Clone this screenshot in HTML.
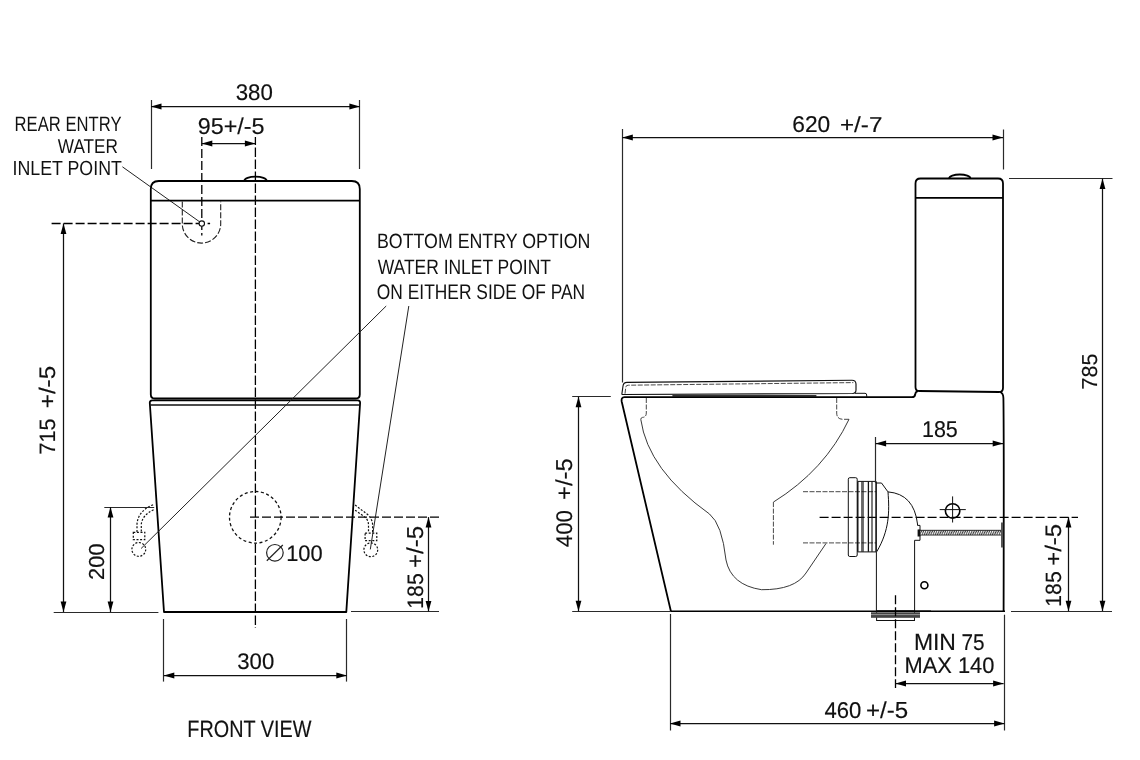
<!DOCTYPE html>
<html><head><meta charset="utf-8"><style>
html,body{margin:0;padding:0;background:#fff;width:1140px;height:760px;overflow:hidden}
svg{display:block;will-change:transform}
text{font-family:"Liberation Sans",sans-serif;fill:#111;text-rendering:geometricPrecision;stroke:#111;stroke-width:0.7}
.obj{stroke:#000;stroke-width:1.8;fill:none;stroke-linejoin:round}
.obj1{stroke:#000;stroke-width:1.6;fill:none}
.obj2{stroke:#111;stroke-width:1.5;fill:none}
.dim{stroke:#111;stroke-width:1.25;fill:none}
.ext{stroke:#2a2a2a;stroke-width:1.2;fill:none}
.lead{stroke:#222;stroke-width:1;fill:none}
.dash{stroke:#000;stroke-width:1.3;fill:none;stroke-dasharray:9 3}
.seat{stroke:#111;stroke-width:1.15;fill:none}
.udash{stroke:#222;stroke-width:1.1;fill:none;stroke-dasharray:6 2}
.tdash{stroke:#333;stroke-width:0.9;fill:none;stroke-dasharray:5 1.5}
.dots{stroke:#111;stroke-width:1.2;fill:none;stroke-dasharray:2 1.6}
.thin1{stroke:#222;stroke-width:0.9;fill:none}
.lite{stroke:#aaa;stroke-width:0.8;fill:none}
.tdash2{stroke:#111;stroke-width:1.3;fill:none;stroke-dasharray:3 2.5}
.thin{stroke:#111;stroke-width:1;fill:none}
.thin2{stroke:#222;stroke-width:1.2;fill:none}
</style></head><body>
<svg width="1140" height="760" viewBox="0 0 1140 760">
<rect width="1140" height="760" fill="#fff"/>
<line x1="151.5" y1="100" x2="151.5" y2="169" class="ext"/>
<line x1="359.5" y1="100" x2="359.5" y2="169" class="ext"/>
<line x1="151" y1="106.5" x2="359.9" y2="106.5" class="dim"/>
<polygon points="151.00,106.50 161.50,103.60 161.50,109.40" fill="#000"/>
<polygon points="359.90,106.50 349.40,103.60 349.40,109.40" fill="#000"/>
<text transform="translate(235.709,100.173) scale(0.22264,0.22676)" font-size="100">380</text>
<line x1="201.8" y1="137" x2="201.8" y2="235.5" class="dash"/>
<line x1="201.8" y1="143.5" x2="255.4" y2="143.5" class="dim"/>
<polygon points="201.80,143.50 212.30,140.60 212.30,146.40" fill="#000"/>
<polygon points="255.40,143.50 244.90,140.60 244.90,146.40" fill="#000"/>
<text transform="translate(197.751,133.872) scale(0.23315,0.22817)" font-size="100">95+/-5</text>
<line x1="255.4" y1="137" x2="255.4" y2="628" class="dash" style="stroke-dasharray:9.5 2.5;stroke-dashoffset:1.6"/>
<text transform="translate(14.568,131.000) scale(0.16648,0.20870)" font-size="100" style="stroke-width:0">REAR ENTRY</text>
<text transform="translate(57.814,152.900) scale(0.17184,0.20145)" font-size="100" style="stroke-width:0">WATER</text>
<text transform="translate(12.500,175.397) scale(0.17780,0.20282)" font-size="100" style="stroke-width:0">INLET POINT</text>
<line x1="122.4" y1="166.8" x2="199.6" y2="221.8" class="lead"/>
<path class="obj" d="M150.8,394.5 V189 Q150.8,181 158.8,181 H351.8 Q359.8,181 359.8,189 V394.5 Q359.8,398.5 355.8,398.5 H154.8 Q150.8,398.5 150.8,394.5 Z"/>
<line x1="150.8" y1="200.7" x2="359.8" y2="200.7" class="obj"/>
<path class="obj" d="M244.3,181 A11.2,4.4 0 0 1 266.7,181"/>
<path class="udash" d="M182.3,201.5 V223.9 A19.2,19.2 0 0 0 220.7,223.9 V201.5"/>
<line x1="51.6" y1="223.5" x2="210.1" y2="223.5" class="dash"/>
<line x1="63.5" y1="223.5" x2="63.5" y2="612" class="dim"/>
<polygon points="63.50,223.50 60.60,234.00 66.40,234.00" fill="#000"/>
<polygon points="63.50,612.00 60.60,601.50 66.40,601.50" fill="#000"/>
<text transform="translate(54.777,454.476) rotate(-90) scale(0.21524,0.22286)" font-size="100">715</text>
<text transform="translate(54.774,408.208) rotate(-90) scale(0.24157,0.22571)" font-size="100">+/-5</text>
<line x1="53.7" y1="612.5" x2="158.4" y2="612.5" class="ext"/>
<path class="obj" d="M149.8,403 Q149.6,400.4 152.3,400.4 H357.8 Q360.3,400.4 360.1,403 L346.3,612 H164 Z"/>
<line x1="150.5" y1="404.9" x2="359.5" y2="404.9" class="obj2"/>
<circle cx="255.3" cy="517.3" r="25.8" class="tdash2"/>
<line x1="250" y1="517.1" x2="439" y2="517.1" class="dash"/>
<circle cx="274.9" cy="552.8" r="8.3" class="thin2"/>
<line x1="266.8" y1="560.8" x2="282.8" y2="545" class="thin2"/>
<text transform="translate(286.160,560.825) scale(0.21865,0.22535)" font-size="100">100</text>
<path class="dots" d="M153.1,504.7 Q138,511 137,524 V532.3 M153.6,509.7 Q142.5,515 141.3,524 V532.3"/>
<rect x="133.3" y="532.3" width="11.5" height="7.4" class="dots"/>
<circle cx="138.8" cy="549.4" r="6.9" class="dots"/>
<path class="dots" d="M355.1,505.1 L367,514 Q372.6,519 372.6,525 V533 M355.1,510.2 L363.5,516 Q368.5,519.5 368.5,525 V533"/>
<rect x="365.1" y="533.2" width="11.7" height="7.4" class="dots"/>
<circle cx="370.8" cy="549.8" r="6.9" class="dots"/>
<text transform="translate(376.978,248.393) scale(0.17779,0.20704)" font-size="100" style="stroke-width:0">BOTTOM ENTRY OPTION</text>
<text transform="translate(377.813,273.792) scale(0.17434,0.20845)" font-size="100" style="stroke-width:0">WATER INLET POINT</text>
<text transform="translate(376.818,298.989) scale(0.17385,0.21127)" font-size="100" style="stroke-width:0">ON EITHER SIDE OF PAN</text>
<line x1="386.2" y1="306" x2="141.1" y2="548.5" class="lead"/>
<line x1="408.8" y1="306" x2="370.3" y2="549.4" class="lead"/>
<line x1="104.3" y1="507.5" x2="154.2" y2="507.5" class="ext"/>
<line x1="110.5" y1="507" x2="110.5" y2="612" class="dim"/>
<polygon points="110.50,507.00 107.60,517.50 113.40,517.50" fill="#000"/>
<polygon points="110.50,612.00 107.60,601.50 113.40,601.50" fill="#000"/>
<text transform="translate(103.783,579.893) rotate(-90) scale(0.21867,0.21690)" font-size="100">200</text>
<line x1="351" y1="611.5" x2="439" y2="611.5" class="ext"/>
<line x1="428.5" y1="517.1" x2="428.5" y2="611.5" class="dim"/>
<polygon points="428.50,517.10 425.60,527.60 431.40,527.60" fill="#000"/>
<polygon points="428.50,611.50 425.60,601.00 431.40,601.00" fill="#000"/>
<text transform="translate(422.576,608.692) rotate(-90) scale(0.21226,0.22394)" font-size="100">185</text>
<text transform="translate(422.770,567.899) rotate(-90) scale(0.23976,0.23000)" font-size="100">+/-5</text>
<line x1="163.5" y1="619" x2="163.5" y2="681.6" class="ext"/>
<line x1="346.5" y1="619" x2="346.5" y2="681.6" class="ext"/>
<line x1="163.8" y1="675.5" x2="346.8" y2="675.5" class="dim"/>
<polygon points="163.80,675.50 174.30,672.60 174.30,678.40" fill="#000"/>
<polygon points="346.80,675.50 336.30,672.60 336.30,678.40" fill="#000"/>
<text transform="translate(237.212,668.875) scale(0.22201,0.22535)" font-size="100">300</text>
<text transform="translate(187.313,737.265) scale(0.19838,0.23521)" font-size="100">FRONT VIEW</text>
<line x1="622.5" y1="129" x2="622.5" y2="382.5" class="ext"/>
<line x1="1003.5" y1="129.5" x2="1003.5" y2="169.5" class="ext"/>
<line x1="622.3" y1="137.5" x2="1003" y2="137.5" class="dim"/>
<polygon points="622.30,137.50 632.80,134.60 632.80,140.40" fill="#000"/>
<polygon points="1003.00,137.50 992.50,134.60 992.50,140.40" fill="#000"/>
<text transform="translate(792.262,132.170) scale(0.22753,0.22958)" font-size="100">620</text>
<text transform="translate(839.991,131.900) scale(0.24182,0.21594)" font-size="100">+/-7</text>
<path class="obj" d="M915.5,387 V183.5 Q915.5,178.5 920.5,178.5 H998 Q1003,178.5 1003,183.5 V388 Q1003,392 999,392 L919,391 Q915.5,391 915.5,387"/>
<line x1="915.5" y1="197.9" x2="1003" y2="197.9" class="obj"/>
<path class="obj" d="M949.2,178.5 A10.6,4 0 0 1 970.4,178.5"/>
<line x1="1009" y1="178.5" x2="1112.5" y2="178.5" class="ext"/>
<line x1="1102.5" y1="178.5" x2="1102.5" y2="611.2" class="dim"/>
<polygon points="1102.50,178.50 1099.60,189.00 1105.40,189.00" fill="#000"/>
<polygon points="1102.50,611.20 1099.60,600.70 1105.40,600.70" fill="#000"/>
<text transform="translate(1096.683,389.473) rotate(-90) scale(0.21460,0.21690)" font-size="100">785</text>
<line x1="1011" y1="611.5" x2="1112" y2="611.5" class="ext"/>
<path class="seat" d="M621.8,394.5 L623,386 Q623.5,382.4 627,382.4 L852,380.2 Q855.8,380.2 856,384 V390 Q856,393.3 852.5,393.5 L621.8,394.5"/>
<path class="tdash" d="M625,393.7 L625.8,387 Q626,385.2 628.5,385.2 L853.3,382.6"/>
<path class="thin" d="M855,393.3 H865 Q866.7,393.3 866.7,395 V396.8"/>
<rect x="672.4" y="395" width="144" height="1.6" fill="#333"/>
<path class="obj" d="M670.9,611.3 L621.8,402 Q620.8,397.2 624.5,397.2 H912 Q914.8,397.2 915.2,394.5 Q915.5,391.5 918,391.2"/>
<path class="obj" d="M1000,392 Q1003.3,393 1003.4,398 Q1004,430 1003.6,611.3"/>
<line x1="572.2" y1="611.5" x2="670.5" y2="611.5" class="ext"/>
<line x1="670.5" y1="611.3" x2="1005" y2="611.3" class="obj1"/>
<line x1="610.8" y1="396.5" x2="572.2" y2="396.5" class="ext"/>
<line x1="578.5" y1="396.7" x2="578.5" y2="611.2" class="dim"/>
<polygon points="578.50,396.70 575.60,407.20 581.40,407.20" fill="#000"/>
<polygon points="578.50,611.20 575.60,600.70 581.40,600.70" fill="#000"/>
<text transform="translate(571.773,547.258) rotate(-90) scale(0.22305,0.22676)" font-size="100">400</text>
<text transform="translate(571.770,499.990) rotate(-90) scale(0.23795,0.23000)" font-size="100">+/-5</text>
<path class="tdash" d="M646.3,398 V413 Q646.3,417.2 642.5,417.4 Q640.8,417.6 640.8,419.5"/>
<path class="thin1" d="M640.8,419.5 Q648,470 709.5,514 Q722,524 726,560 Q731,585 761.5,589.7 Q795,590 806,573 L826,543.5"/>
<path class="tdash" d="M836.7,398 V413 Q836.7,419.3 843,419.3 H849"/>
<path class="thin1" d="M849,419.3 Q825,470 773.4,502.1"/>
<path class="tdash" d="M773.4,502.1 V544.7"/>
<line x1="803" y1="491.7" x2="876" y2="491.7" class="tdash"/>
<line x1="803" y1="542.9" x2="876" y2="542.9" class="tdash"/>
<line x1="819.6" y1="517.4" x2="1078" y2="517.4" class="dash"/>
<rect x="848.3" y="477.7" width="8.9" height="78.8" rx="1.5" class="thin"/>
<line x1="857.8" y1="481.5" x2="857.8" y2="551.8" stroke="#111" stroke-width="1.4"/>
<line x1="861.9" y1="481.5" x2="861.9" y2="551.8" stroke="#111" stroke-width="1"/>
<line x1="863.1" y1="481.5" x2="863.1" y2="551.8" stroke="#111" stroke-width="1"/>
<line x1="868.4" y1="481.5" x2="868.4" y2="551.8" stroke="#111" stroke-width="1.3"/>
<line x1="872" y1="481.5" x2="872" y2="551.8" stroke="#111" stroke-width="1.1"/>
<line x1="876.1" y1="481.5" x2="876.1" y2="551.8" stroke="#111" stroke-width="1.6"/>
<line x1="857.8" y1="481.4" x2="876.1" y2="481.4" class="thin"/>
<line x1="857.8" y1="551.9" x2="876.1" y2="551.9" class="thin"/>
<path class="thin" d="M876.1,483 H881.5 L888,491.9 C889.5,512 889.5,530 876.7,551.8"/>
<path class="thin" d="M888,491.9 Q914,494 917.5,524 V525.4 H920 V540.3 H914.6 V611.5"/>
<line x1="875.5" y1="437" x2="875.5" y2="483" class="ext"/>
<line x1="876.4" y1="551.8" x2="876.4" y2="611" class="thin"/>
<defs><pattern id="hat" width="2.2" height="4.7" patternUnits="userSpaceOnUse" patternTransform="translate(0,530.3)"><rect width="2.2" height="4.7" fill="#fff"/><path d="M0,4.7 L2.2,0" stroke="#333" stroke-width="0.9"/></pattern></defs>
<rect x="919" y="530.3" width="82.5" height="4.7" fill="url(#hat)" stroke="#111" stroke-width="0.9"/>
<rect x="917.6" y="529.5" width="2.6" height="7" fill="#111"/>
<rect x="1001" y="522.5" width="2.2" height="25" fill="#555"/>
<circle cx="952.6" cy="510.9" r="7.2" class="obj1"/>
<line x1="939.7" y1="509.6" x2="965.8" y2="509.6" class="thin"/>
<line x1="952.6" y1="496.4" x2="952.6" y2="522.5" class="thin"/>
<circle cx="924.4" cy="585.2" r="3.5" class="obj1"/>
<rect x="876.6" y="611" width="37.9" height="9.5" class="thin"/>
<rect x="871" y="612.3" width="49" height="5.5" fill="#444"/>
<line x1="871" y1="614.6" x2="920" y2="614.6" class="lite"/>
<line x1="876.6" y1="611.2" x2="931" y2="611.2" class="obj1"/>
<line x1="895.5" y1="595.3" x2="895.5" y2="688" class="dash"/>
<line x1="875.6" y1="443.5" x2="1003.2" y2="443.5" class="dim"/>
<polygon points="875.60,443.50 886.10,440.60 886.10,446.40" fill="#000"/>
<polygon points="1003.20,443.50 992.70,440.60 992.70,446.40" fill="#000"/>
<text transform="translate(921.936,436.921) scale(0.21516,0.22887)" font-size="100">185</text>
<line x1="1068.5" y1="517.1" x2="1068.5" y2="611.2" class="dim"/>
<polygon points="1068.50,517.10 1065.60,527.60 1071.40,527.60" fill="#000"/>
<polygon points="1068.50,611.20 1065.60,600.70 1071.40,600.70" fill="#000"/>
<text transform="translate(1061.079,606.692) rotate(-90) scale(0.21226,0.22113)" font-size="100">185</text>
<text transform="translate(1061.076,565.796) rotate(-90) scale(0.23916,0.22429)" font-size="100">+/-5</text>
<line x1="670.5" y1="614" x2="670.5" y2="730.5" class="ext"/>
<line x1="1004.5" y1="614.7" x2="1004.5" y2="730.5" class="ext"/>
<text transform="translate(913.918,650.200) scale(0.22904,0.23623)" font-size="100">MIN</text>
<text transform="translate(961.566,650.373) scale(0.20686,0.22714)" font-size="100">75</text>
<text transform="translate(904.553,672.600) scale(0.21840,0.22464)" font-size="100">MAX</text>
<text transform="translate(957.960,672.776) scale(0.21865,0.22394)" font-size="100">140</text>
<line x1="895.5" y1="683.5" x2="1003.6" y2="683.5" class="dim"/>
<polygon points="895.50,683.50 906.00,680.60 906.00,686.40" fill="#000"/>
<polygon points="1003.60,683.50 993.10,680.60 993.10,686.40" fill="#000"/>
<text transform="translate(824.449,717.572) scale(0.22056,0.22817)" font-size="100">460</text>
<text transform="translate(865.995,717.569) scale(0.24096,0.23143)" font-size="100">+/-5</text>
<line x1="670" y1="723.5" x2="1004.6" y2="723.5" class="dim"/>
<polygon points="670.00,723.50 680.50,720.60 680.50,726.40" fill="#000"/>
<polygon points="1004.60,723.50 994.10,720.60 994.10,726.40" fill="#000"/>
<circle cx="201.8" cy="223.6" r="2.7" fill="#fff" stroke="#111" stroke-width="1.1"/>
</svg>
</body></html>
